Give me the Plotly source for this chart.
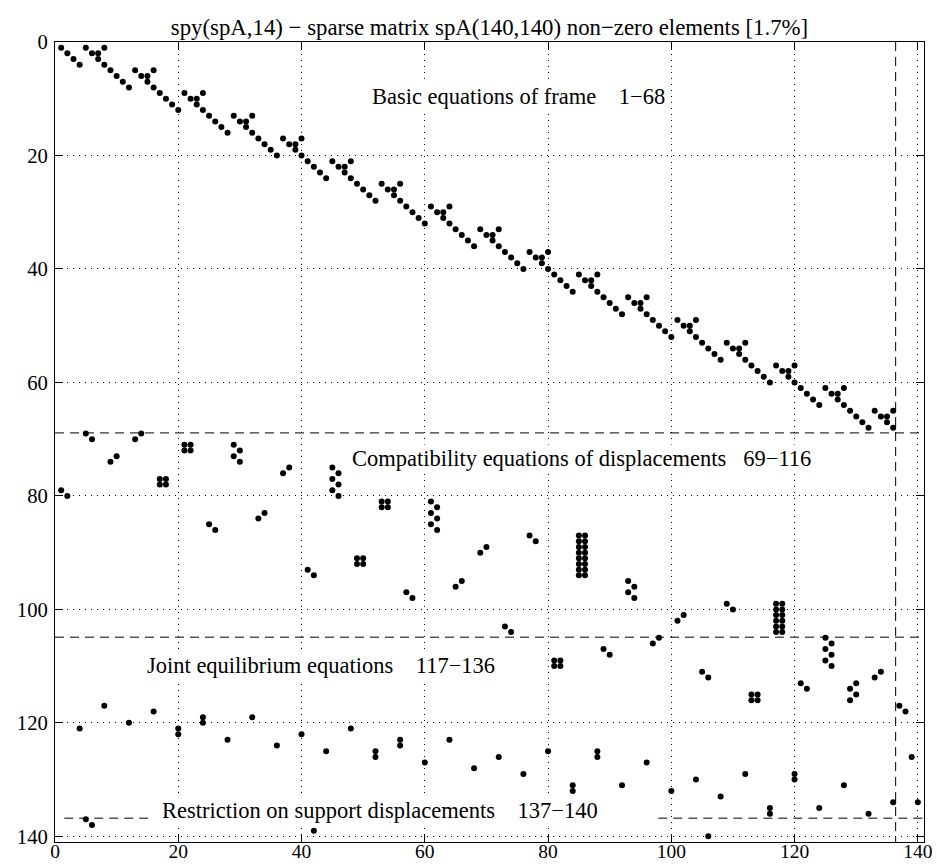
import plotly.graph_objects as go

# ---------------- data (row, column indices of non-zero elements) ----------------
frame_rows = [1, 2, 3, 4, 1, 2, 2, 3, 1, 4,
              5, 6, 7, 8, 5, 6, 6, 7, 5, 8,
              9, 10, 11, 12, 9, 10, 10, 11, 9, 12,
              13, 14, 15, 16, 13, 14, 14, 15, 13, 16,
              17, 18, 19, 20, 17, 18, 18, 19, 17, 20,
              21, 22, 23, 24, 21, 22, 22, 23, 21, 24,
              25, 26, 27, 28, 25, 26, 26, 27, 25, 28,
              29, 30, 31, 32, 29, 30, 30, 31, 29, 32,
              33, 34, 35, 36, 33, 34, 34, 35, 33, 36,
              37, 38, 39, 40, 37, 38, 38, 39, 37, 40,
              41, 42, 43, 44, 41, 42, 42, 43, 41, 44,
              45, 46, 47, 48, 45, 46, 46, 47, 45, 48,
              49, 50, 51, 52, 49, 50, 50, 51, 49, 52,
              53, 54, 55, 56, 53, 54, 54, 55, 53, 56,
              57, 58, 59, 60, 57, 58, 58, 59, 57, 60,
              61, 62, 63, 64, 61, 62, 62, 63, 61, 64,
              65, 66, 67, 68, 65, 66, 66, 67, 65, 68]
frame_cols = [1, 2, 3, 4, 5, 6, 7, 7, 8, 8,
              9, 10, 11, 12, 13, 14, 15, 15, 16, 16,
              17, 18, 19, 20, 21, 22, 23, 23, 24, 24,
              25, 26, 27, 28, 29, 30, 31, 31, 32, 32,
              33, 34, 35, 36, 37, 38, 39, 39, 40, 40,
              41, 42, 43, 44, 45, 46, 47, 47, 48, 48,
              49, 50, 51, 52, 53, 54, 55, 55, 56, 56,
              57, 58, 59, 60, 61, 62, 63, 63, 64, 64,
              65, 66, 67, 68, 69, 70, 71, 71, 72, 72,
              73, 74, 75, 76, 77, 78, 79, 79, 80, 80,
              81, 82, 83, 84, 85, 86, 87, 87, 88, 88,
              89, 90, 91, 92, 93, 94, 95, 95, 96, 96,
              97, 98, 99, 100, 101, 102, 103, 103, 104, 104,
              105, 106, 107, 108, 109, 110, 111, 111, 112, 112,
              113, 114, 115, 116, 117, 118, 119, 119, 120, 120,
              121, 122, 123, 124, 125, 126, 127, 127, 128, 128,
              129, 130, 131, 132, 133, 134, 135, 135, 136, 136]

compat_rows = [69, 70, 74, 73, 70, 69,
               77, 77, 78, 78,
               71, 71, 72, 72,
               71, 72, 73, 74,
               79, 80, 85, 86, 84, 83, 76, 75,
               75, 76, 77, 78, 79, 80,
               81, 81, 82, 82,
               81, 82, 83, 84, 85, 86,
               93, 94,
               91, 91, 92, 92,
               97, 98, 96, 95, 90, 89, 87, 88,
               87, 88, 89, 90, 91, 92, 93, 94,
               87, 88, 89, 90, 91, 92, 93, 94,
               95, 96, 97, 98,
               103, 104, 102, 101, 105, 106, 99, 100,
               99, 100, 101, 102, 103, 104,
               99, 100, 101, 102, 103, 104,
               105, 106, 107, 108, 109, 110,
               111, 112,
               115, 115, 116, 116,
               113, 114,
               114, 113, 116, 115,
               112, 111,
               109, 109, 110, 110,
               107, 108]
compat_cols = [5, 6, 9, 10, 13, 14,
               17, 18, 17, 18,
               21, 22, 21, 22,
               29, 30, 29, 30,
               1, 2, 25, 26, 33, 34, 37, 38,
               45, 46, 45, 46, 45, 46,
               53, 54, 53, 54,
               61, 62, 61, 62, 61, 62,
               41, 42,
               49, 50, 49, 50,
               57, 58, 65, 66, 69, 70, 77, 78,
               85, 85, 85, 85, 85, 85, 85, 85,
               86, 86, 86, 86, 86, 86, 86, 86,
               93, 94, 93, 94,
               73, 74, 101, 102, 98, 97, 109, 110,
               117, 117, 117, 117, 117, 117,
               118, 118, 118, 118, 118, 118,
               125, 126, 125, 126, 125, 126,
               105, 106,
               113, 114, 113, 114,
               121, 122,
               129, 130, 129, 130,
               133, 134,
               81, 82, 81, 82,
               89, 90]

joint_rows = [121, 117, 120, 118, 121, 122, 119, 120, 123, 119,
              124, 122, 125, 121, 125, 126, 123, 124, 127, 123,
              128, 126, 129, 125, 131, 132, 125, 126, 131, 127,
              132, 130, 133, 129, 135, 136, 129, 130, 135, 131,
              136, 134, 126, 134, 117, 118]
joint_cols = [4, 8, 12, 16, 20, 20, 24, 24, 28, 32,
              36, 40, 44, 48, 52, 52, 56, 56, 60, 64,
              68, 72, 76, 80, 84, 84, 88, 88, 92, 96,
              100, 104, 108, 112, 116, 116, 120, 120, 124, 128,
              132, 136, 139, 140, 137, 138]

support_rows = [137, 138, 139, 140]
support_cols = [5, 6, 42, 106]

tick_vals = [0, 20, 40, 60, 80, 100, 120, 140]
tick_text = ["0", "20", "40", "60", "80", "100", "120", "140"]

title_text = "spy(spA,14) \u2212 sparse matrix spA(140,140) non\u2212zero elements [1.7%]"
NB = "\u00a0"
labels = [
    "Basic equations of frame" + NB * 4 + "1\u221268",
    "Compatibility equations of displacements" + NB * 3 + "69\u2212116",
    "Joint equilibrium equations" + NB * 4 + "117\u2212136",
    "Restriction on support displacements" + NB * 4 + "137\u2212140",
]
label_x = [51.1, 47.8, 14.6, 17.1]
label_y = [9.6, 73.4, 109.9, 135.5]

# separator lines (data coordinates)
hlines = [(68.9, 0, 141), (104.9, 0, 141), (136.8, 1.5, 15.7), (136.8, 97.9, 141)]
vline_x = 136.4

FONT = "Liberation Serif, Times New Roman, serif"

rows = frame_rows + compat_rows + joint_rows + support_rows
cols = frame_cols + compat_cols + joint_cols + support_cols

fig = go.Figure()
fig.add_trace(go.Scatter(
    x=cols, y=rows, mode="markers",
    marker=dict(color="black", size=6, symbol="circle", line=dict(width=0)),
    showlegend=False, hoverinfo="x+y"))

dash = "9px,6px"
for (yv, x0, x1) in hlines:
    fig.add_shape(type="line", xref="x", yref="y", x0=x0, x1=x1, y0=yv, y1=yv,
                  line=dict(color="black", width=1, dash=dash))
fig.add_shape(type="line", xref="x", yref="y", x0=vline_x, x1=vline_x, y0=0, y1=141,
              line=dict(color="black", width=1, dash=dash))

for t, xv, yv in zip(labels, label_x, label_y):
    fig.add_annotation(x=xv, y=yv, xref="x", yref="y", text=t, showarrow=False,
                       xanchor="left", yanchor="middle", bgcolor="white",
                       font=dict(family=FONT, size=22.5, color="black"))

axis_common = dict(
    tickvals=tick_vals, ticktext=tick_text,
    showgrid=True, gridcolor="black", gridwidth=1, griddash="1px,5px",
    showline=True, linecolor="black", linewidth=1, mirror="ticks",
    ticks="inside", ticklen=8, tickcolor="black", tickwidth=1,
    zeroline=False, automargin=False,
)

fig.update_layout(
    width=937, height=864,
    margin=dict(l=55, r=13, t=42, b=22),
    paper_bgcolor="white", plot_bgcolor="white",
    title=dict(text=title_text, x=0.5, xref="paper", xanchor="center",
               y=1 - 27 / 864, yref="container", yanchor="middle",
               font=dict(family=FONT, size=22.8, color="black")),
    xaxis=dict(range=[0, 141], ticklabelstandoff=-8,
               tickfont=dict(family=FONT, size=19.5, color="black"), **axis_common),
    yaxis=dict(range=[141, 0], ticklabelstandoff=2,
               tickfont=dict(family=FONT, size=20.7, color="black"), **axis_common),
    font=dict(family=FONT, color="black"),
)

fig.write_html("out.html", config={"displayModeBar": False},
               post_script="document.body.style.margin='0';")
